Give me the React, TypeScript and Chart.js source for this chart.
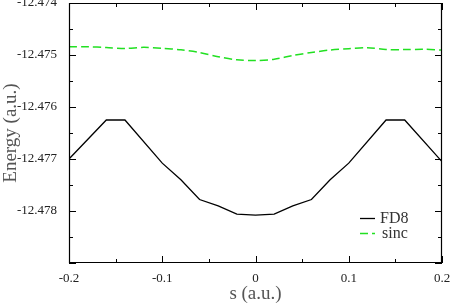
import React, { useEffect, useRef } from "react";
import { Chart, registerables } from "chart.js";

Chart.register(...registerables);

// ---- data ----
const sFD8 = [-0.2, -0.16, -0.14, -0.1, -0.08, -0.06, -0.04, -0.02, 0, 0.02, 0.04, 0.06, 0.08, 0.1, 0.14, 0.16, 0.2];
const energyFD8 = [
  -12.477, -12.47625, -12.47625, -12.47708, -12.4774, -12.47778, -12.4779, -12.47806, -12.47808,
  -12.47806, -12.4779, -12.47778, -12.4774, -12.47708, -12.47625, -12.47625, -12.47705,
];
const sSinc = [-0.2, -0.18, -0.16, -0.14, -0.12, -0.1, -0.08, -0.06, -0.04, -0.02, 0, 0.02, 0.04, 0.06, 0.08, 0.1, 0.12, 0.14, 0.16, 0.18, 0.2];
const energySinc = [
  -12.47484, -12.474842, -12.474856, -12.474875, -12.474852, -12.474871, -12.4749, -12.474952, -12.475033,
  -12.475092, -12.475106, -12.475083, -12.47501, -12.474952, -12.474904, -12.474879, -12.47486, -12.474894,
  -12.474896, -12.47489, -12.474904,
];
const seriesLabels = ["FD8", "sinc"];
const xMin = -0.2, xMax = 0.2, xStep = 0.1;
const yMin = -12.479, yMax = -12.474, yStep = 0.001;
const xTitle = "s (a.u.)";
const yTitle = "Energy (a.u.)";

const SERIF = "'Liberation Serif', 'Times New Roman', serif";

const frameTicks = {
  id: "frameTicks",
  afterDatasetsDraw(chart: any) {
    const { ctx, chartArea, scales } = chart;
    const { left, right, top, bottom } = chartArea;
    const x = scales.x, y = scales.y;
    ctx.save();
    ctx.strokeStyle = "#000";
    ctx.lineWidth = 1.2;
    ctx.beginPath();
    ctx.rect(left + 0.5, top + 0.5, right - left - 1, bottom - top - 1);
    ctx.stroke();
    ctx.lineWidth = 1;
    const major = 7, minor = 4;
    ctx.beginPath();
    const xt = x.ticks.map((t: any) => t.value);
    xt.forEach((v: number, i: number) => {
      const p = Math.round(x.getPixelForValue(v)) + 0.5;
      ctx.moveTo(p, bottom); ctx.lineTo(p, bottom - major);
      ctx.moveTo(p, top); ctx.lineTo(p, top + major);
      if (i < xt.length - 1) {
        const m = Math.round(x.getPixelForValue((v + xt[i + 1]) / 2)) + 0.5;
        ctx.moveTo(m, bottom); ctx.lineTo(m, bottom - minor);
        ctx.moveTo(m, top); ctx.lineTo(m, top + minor);
      }
    });
    const yt = y.ticks.map((t: any) => t.value);
    yt.forEach((v: number, i: number) => {
      const p = Math.round(y.getPixelForValue(v)) + 0.5;
      ctx.moveTo(left, p); ctx.lineTo(left + major, p);
      ctx.moveTo(right, p); ctx.lineTo(right - major, p);
      if (i < yt.length - 1) {
        const m = Math.round(y.getPixelForValue((v + yt[i + 1]) / 2)) + 0.5;
        ctx.moveTo(left, m); ctx.lineTo(left + minor, m);
        ctx.moveTo(right, m); ctx.lineTo(right - minor, m);
      }
    });
    ctx.stroke();

    // legend inside plot
    const lx = chartArea.right - 82;
    const ly0 = chartArea.bottom - 45;
    chart.data.datasets.forEach((ds: any, i: number) => {
      const ly = ly0 + i * 15;
      ctx.beginPath();
      ctx.strokeStyle = ds.borderColor;
      ctx.lineWidth = ds.borderWidth;
      ctx.setLineDash(ds.borderDash || []);
      ctx.moveTo(lx, ly + 0.5);
      ctx.lineTo(lx + 15, ly + 0.5);
      ctx.stroke();
      ctx.setLineDash([]);
      ctx.fillStyle = "#333";
      ctx.font = `16px ${SERIF}`;
      ctx.textBaseline = "middle";
      ctx.textAlign = "left";
      ctx.fillText(ds.label, lx + 20 + (i === 1 ? 2 : 0), ly + 1);
    });
    ctx.restore();
  },
};

export default function App() {
  const ref = useRef<HTMLCanvasElement | null>(null);
  useEffect(() => {
    if (!ref.current) return;
    const chart = new Chart(ref.current, {
      type: "line",
      data: {
        datasets: [
          {
            label: seriesLabels[0],
            data: sFD8.map((s, i) => ({ x: s, y: energyFD8[i] })),
            borderColor: "#000",
            borderWidth: 1.3,
            pointRadius: 0,
            tension: 0,
            fill: false,
          },
          {
            label: seriesLabels[1],
            data: sSinc.map((s, i) => ({ x: s, y: energySinc[i] })),
            borderColor: "#22e022",
            borderWidth: 1.5,
            borderDash: [8, 4],
            pointRadius: 0,
            tension: 0.3,
            fill: false,
          },
        ],
      },
      options: {
        animation: false,
        responsive: false,
        devicePixelRatio: 1,
        layout: { padding: { top: 3, right: 11, left: 0, bottom: 0 } },
        plugins: { legend: { display: false }, tooltip: { enabled: false } },
        scales: {
          x: {
            type: "linear",
            min: xMin,
            max: xMax,
            grid: { display: false },
            border: { display: false },
            ticks: {
              stepSize: xStep,
              padding: 0,
              color: "#222",
              font: { family: SERIF, size: 13 },
              callback: (v: any) => (Math.abs(v) < 1e-9 ? "0" : Number(v).toFixed(1)),
            },
            title: {
              display: true,
              text: xTitle,
              color: "#555",
              font: { family: SERIF, size: 19 },
              padding: { top: 0, bottom: -1 },
            },
            afterFit: (s: any) => {
              s.height = 41;
              s.paddingLeft = 0;
              s.paddingRight = 0;
            },
          },
          y: {
            type: "linear",
            min: yMin,
            max: yMax,
            grid: { display: false },
            border: { display: false },
            ticks: {
              stepSize: yStep,
              padding: 4,
              color: "#222",
              font: { family: SERIF, size: 13 },
              callback: (v: any) => (Math.abs(v - yMin) < 1e-7 ? "" : Number(v).toFixed(3)),
            },
            title: {
              display: true,
              text: yTitle,
              color: "#555",
              font: { family: SERIF, size: 19 },
              padding: 0,
            },
            afterFit: (s: any) => {
              s.width = 69;
              s.paddingTop = 0;
              s.paddingBottom = 0;
            },
          },
        },
      },
      plugins: [frameTicks],
    });
    return () => chart.destroy();
  }, []);
  return (
    <div style={{ position: "fixed", left: 0, top: 0, width: 453, height: 304, background: "#fff" }}>
      <canvas ref={ref} width={453} height={304} style={{ display: "block" }} />
    </div>
  );
}
